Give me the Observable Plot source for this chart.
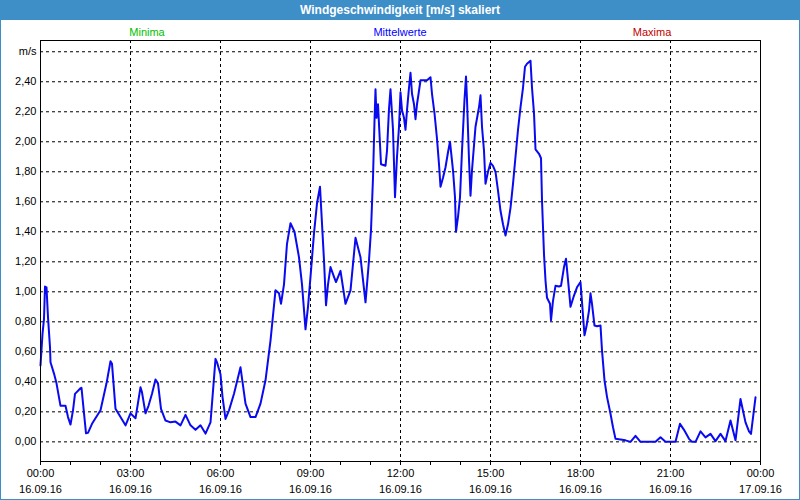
<!DOCTYPE html>
<html>
<head>
<meta charset="utf-8">
<script src="https://cdn.jsdelivr.net/npm/d3@7"></script>
<script src="https://cdn.jsdelivr.net/npm/@observablehq/plot@0.6"></script>
<style>
  body { margin: 0; background: #fff; }
  #wrap { position: relative; width: 800px; height: 500px; box-sizing: border-box;
          border-left: 1px solid #3e8ec8; border-right: 1px solid #3e8ec8; border-bottom: 1px solid #3e8ec8;
          font-family: "Liberation Sans", Arial, sans-serif; overflow: hidden; }
  #title { height: 20px; line-height: 20px; background: #3e8ec8; color: #fff; font-weight: bold;
           font-size: 12px; text-align: center; margin: 0 -1px; }
  #legend { position: relative; height: 16px; font-size: 11px; }
  #legend span { position: absolute; top: 6px; line-height: 13px; transform: translateX(-50%); white-space: nowrap; }
  #chart svg { display: block; }
</style>
</head>
<body>
<div id="wrap">
  <div id="title">Windgeschwindigkeit [m/s] skaliert</div>
  <div id="legend"></div>
  <div id="chart"></div>
</div>
<script>
// Series names and colours
const seriesNames = ["Minima", "Mittelwerte", "Maxima"];
const seriesColors = ["#00c000", "#0000ff", "#c00000"];

// Time in minutes since 16.09.16 00:00
const minutes = [0,4,7,9,12,15,19,20,27,32,40,50,55,60,65,69,80,82,91,95,103,120,132,140,143,150,160,170,180,190,200,203,210,216,223,230,235,241,250,260,270,280,290,300,310,320,330,340,345,350,353,360,364,370,377,387,400,410,420,430,440,450,460,470,477,481,487,493,500,508,517,523,530,535,540,547,553,559,567,571,575,580,587,591,600,610,620,630,640,650,657,661,665,668,670,672,675,678,681,690,693,697,700,705,709,713,717,720,723,727,730,733,737,740,743,747,750,753,757,760,773,780,783,788,793,797,800,805,810,815,819,825,829,831,835,839,843,848,851,853,857,860,863,870,877,880,883,887,890,895,900,905,910,915,920,925,930,935,940,945,950,955,960,965,969,973,980,983,987,990,997,1001,1003,1007,1010,1013,1019,1021,1025,1030,1037,1041,1047,1051,1057,1060,1067,1073,1080,1088,1092,1097,1100,1103,1108,1113,1120,1123,1128,1133,1140,1145,1150,1160,1170,1180,1190,1200,1230,1240,1250,1270,1279,1287,1297,1303,1310,1320,1330,1340,1350,1360,1370,1380,1390,1400,1410,1417,1421,1430];
// Mean wind speed [m/s]
const meanSpeed = [0.51,0.72,0.82,1.035,1.03,0.83,0.63,0.53,0.455,0.39,0.24,0.24,0.165,0.115,0.21,0.32,0.357,0.36,0.057,0.06,0.12,0.21,0.39,0.537,0.52,0.22,0.165,0.11,0.19,0.157,0.364,0.33,0.19,0.24,0.32,0.415,0.39,0.22,0.142,0.13,0.135,0.11,0.18,0.11,0.08,0.11,0.055,0.13,0.34,0.553,0.53,0.45,0.30,0.153,0.21,0.32,0.497,0.255,0.165,0.165,0.255,0.41,0.675,1.01,0.99,0.92,1.05,1.32,1.457,1.40,1.23,1.05,0.75,0.90,1.10,1.39,1.59,1.70,1.21,0.91,1.05,1.165,1.10,1.065,1.14,0.92,1.01,1.36,1.23,0.93,1.21,1.41,1.76,2.14,2.35,2.16,2.25,2.05,1.85,1.84,1.94,2.22,2.35,2.08,1.63,1.90,2.10,2.33,2.21,2.16,2.08,2.21,2.36,2.46,2.32,2.25,2.15,2.25,2.34,2.41,2.41,2.43,2.32,2.19,2.02,1.85,1.70,1.76,1.83,1.93,2.00,1.81,1.63,1.40,1.50,1.63,1.94,2.28,2.435,2.28,1.88,1.64,1.81,2.10,2.23,2.31,2.10,1.94,1.72,1.80,1.86,1.84,1.80,1.675,1.54,1.45,1.375,1.45,1.56,1.72,1.90,2.08,2.23,2.36,2.50,2.52,2.54,2.36,2.19,1.95,1.92,1.89,1.61,1.25,1.075,0.96,0.92,0.81,0.94,1.04,1.035,1.04,1.165,1.22,1.01,0.90,0.975,1.03,1.065,0.71,0.77,0.875,0.99,0.92,0.775,0.77,0.775,0.61,0.41,0.30,0.187,0.097,0.02,0.015,0.01,0.0,0.04,0.0,0.0,0.03,0.0,0.0,0.12,0.08,0.02,0.0,0.0,0.07,0.03,0.053,0.005,0.053,0.005,0.142,0.01,0.286,0.13,0.07,0.053,0.297];

// Axis ticks and labels
const majorTicks = [0,180,360,540,720,900,1080,1260,1440];
const timeLabels = ["00:00","03:00","06:00","09:00","12:00","15:00","18:00","21:00","00:00"];
const dateLabels = ["16.09.16","16.09.16","16.09.16","16.09.16","16.09.16","16.09.16","16.09.16","16.09.16","17.09.16"];
const hourTicks = d3.range(0, 1441, 60);
const yTicks = [0,0.2,0.4,0.6,0.8,1.0,1.2,1.4,1.6,1.8,2.0,2.2,2.4,2.6];
const yUnit = "m/s";

// Legend
const legendX = [147, 400, 652];
const legend = document.getElementById("legend");
seriesNames.forEach((n, i) => {
  const s = document.createElement("span");
  s.textContent = n;
  s.style.color = seriesColors[i];
  s.style.left = (legendX[i] - 1) + "px";
  legend.appendChild(s);
});

const data = minutes.map((t, i) => ({t, v: meanSpeed[i]}));
const fmtY = d => Math.abs(d - 2.6) < 1e-9 ? yUnit : d.toFixed(2).replace(".", ",");

const chart = Plot.plot({
  width: 798,
  height: 463,
  marginLeft: 39,
  marginRight: 39,
  marginTop: 4,
  marginBottom: 38,
  style: {fontFamily: "Liberation Sans, Arial, sans-serif", fontSize: "11px", color: "#000", background: "#fff"},
  x: {type: "linear", domain: [0, 1440]},
  y: {domain: [-0.131, 2.675]},
  marks: [
    Plot.gridY(yTicks, {stroke: "#000", strokeOpacity: 1, strokeDasharray: "3,3"}),
    Plot.gridX(majorTicks.slice(1, -1), {stroke: "#000", strokeOpacity: 1, strokeDasharray: "3,3"}),
    Plot.axisY({ticks: yTicks, tickSize: 0, tickPadding: 4, tickFormat: fmtY, label: null, fill: "#000"}),
    Plot.axisX({ticks: hourTicks, tickSize: 4, tickFormat: () => "", label: null, stroke: "#000"}),
    Plot.axisX({ticks: majorTicks, tickSize: 4, tickPadding: 4, tickFormat: d => timeLabels[majorTicks.indexOf(d)], label: null, fill: "#000", stroke: "#000"}),
    Plot.axisX({ticks: majorTicks, tickSize: 0, tickPadding: 24, tickFormat: d => dateLabels[majorTicks.indexOf(d)], label: null, fill: "#000"}),
    Plot.line(data, {x: "t", y: "v", stroke: "#0a0af0", strokeWidth: 2}),
    Plot.frame({stroke: "#000"})
  ]
});
document.getElementById("chart").appendChild(chart);
</script>
</body>
</html>
